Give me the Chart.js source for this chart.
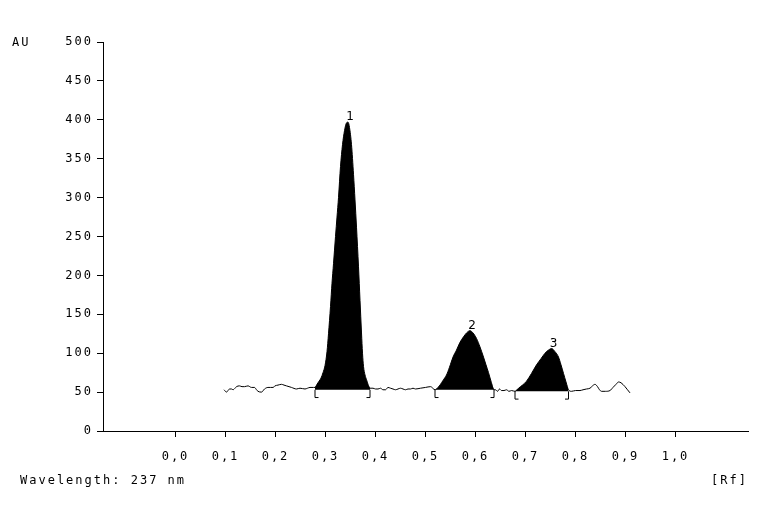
<!DOCTYPE html>
<html>
<head>
<meta charset="utf-8">
<script src="https://cdn.jsdelivr.net/npm/chart.js@4/dist/chart.umd.min.js"></script>
<style>
html,body{margin:0;padding:0;background:#fff;}
#wrap{width:783px;height:525px;}
</style>
</head>
<body>
<div id="wrap"><canvas id="c" width="783" height="525"></canvas></div>
<script>
// ---- Data ----
const rf = [
  0.097,0.102,0.105,0.108,0.112,0.115,0.119,0.122,0.128,0.133,0.138,0.145,0.152,0.158,0.162,0.165,0.172,0.178,0.185,0.190,
  0.195,0.199,0.205,0.212,0.217,0.222,0.232,0.242,0.249,0.259,0.264,0.269,0.276,
  0.279,0.283,0.287,0.291,0.295,0.299,0.303,0.306,0.310,0.313,0.316,0.320,0.323,0.326,0.330,0.334,0.338,0.342,0.345,0.348,
  0.352,0.356,0.359,0.362,0.366,0.369,0.372,0.374,0.376,0.379,0.382,0.385,0.389,
  0.395,0.400,0.405,0.410,0.415,0.420,0.425,0.430,0.435,0.440,0.445,0.450,0.455,0.460,0.465,0.470,0.475,0.480,0.490,0.500,0.510,
  0.519,0.525,0.530,0.535,0.542,0.548,0.555,0.562,0.569,0.576,0.582,0.589,0.595,0.602,0.609,0.616,0.621,0.626,0.631,0.637,
  0.640,0.644,0.648,0.652,0.657,0.662,0.667,0.672,
  0.679,0.686,0.694,0.702,0.712,0.722,0.731,0.739,0.746,0.752,0.759,0.766,0.771,0.776,0.781,0.786,
  0.792,0.800,0.809,0.815,0.822,0.829,0.834,0.839,0.844,0.848,0.852,0.860,0.869,0.875,0.881,0.886,0.891,0.899,0.904,0.909
];
const au = [
  53,50,52,54,54,53,55,57,58,57,57,58,56,56,53,51,50,54,56,56,
  56,58,59,60,59,58,56,54,55,54,55,56,56,
  56,60,64,68,75,84,102,125,160,190,215,250,275,300,340,368,386,396,397,390,
  368,330,297,262,211,168,126,100,83,72,66,60,55,
  55,54,54,55,53,53,56,55,54,53,54,55,54,53,54,54,55,54,55,56,57,
  53,56,60,65,72,82,95,104,114,121,126,129,126,119,108,95,85,75,64,53,
  53,51,54,52,52,53,51,52,
  51,55,59,64,74,85,93,100,104,106,102,95,85,74,63,53,
  51,52,52,53,54,55,58,60,57,53,51,51,52,56,60,63,62,57,53,49
];
const peakNames = ['1','2','3'];
const peakStart = [0.279, 0.519, 0.679];
const peakEnd   = [0.389, 0.637, 0.786];
const peakBase  = [53, 53, 51];
const xTicks = [0.0,0.1,0.2,0.3,0.4,0.5,0.6,0.7,0.8,0.9,1.0];
const yTitle = 'AU';
const xUnit = '[Rf]';
const footNote = 'Wavelength: 237 nm';

// ---- Build datasets ----
const INK = '#000';
const trace = rf.map((x,i)=>({x:x,y:au[i]}));
const datasets = [{
  data: trace, borderColor: INK, borderWidth: 1, pointRadius: 0,
  fill: false, cubicInterpolationMode: 'monotone', order: 0
}];
peakNames.forEach((n,k)=>{
  const pts = trace.filter(p=>p.x>=peakStart[k]-1e-9 && p.x<=peakEnd[k]+1e-9);
  datasets.push({
    data: pts, borderWidth: 0, borderColor: 'rgba(0,0,0,0)', backgroundColor: '#000',
    pointRadius: 0, fill: {value: peakBase[k]}, cubicInterpolationMode: 'monotone', order: 2
  });
  const foot = 0.007, depth = 10;
  datasets.push({
    data: [{x:peakStart[k]+foot,y:peakBase[k]-depth},{x:peakStart[k],y:peakBase[k]-depth},{x:peakStart[k],y:peakBase[k]}],
    borderColor: INK, borderWidth: 1, pointRadius: 0, fill:false, tension:0, order: 1
  });
  datasets.push({
    data: [{x:peakEnd[k]-foot,y:peakBase[k]-depth},{x:peakEnd[k],y:peakBase[k]-depth},{x:peakEnd[k],y:peakBase[k]}],
    borderColor: INK, borderWidth: 1, pointRadius: 0, fill:false, tension:0, order: 1
  });
});

const MONO = '"DejaVu Sans Mono", monospace';

const spacingPlugin = {
  id: 'spacing',
  beforeUpdate(chart){ chart.ctx.letterSpacing = '2px'; },
  beforeDraw(chart){ chart.ctx.letterSpacing = '2px'; }
};

const textPlugin = {
  id: 'texts',
  afterDraw(chart){
    const ctx = chart.ctx;
    const xs = chart.scales.x, ys = chart.scales.y;
    ctx.save();
    ctx.fillStyle = INK;
    ctx.letterSpacing = '2px';
    ctx.font = '12px ' + MONO;
    ctx.textBaseline = 'middle';
    ctx.textAlign = 'left';
    ctx.fillText(yTitle, 12, 43);
    ctx.fillText(footNote, 20, 481);
    ctx.textAlign = 'right';
    ctx.fillText(xUnit, 748, 481);
    // peak numbers above apexes
    ctx.letterSpacing = '0px';
    ctx.font = '12px "DejaVu Sans", sans-serif';
    ctx.textAlign = 'center';
    ctx.textBaseline = 'bottom';
    peakNames.forEach((n,k)=>{
      const pts = trace.filter(p=>p.x>=peakStart[k] && p.x<=peakEnd[k]);
      let top = pts[0];
      pts.forEach(p=>{ if(p.y>top.y) top=p; });
      ctx.fillText(n, xs.getPixelForValue(top.x)+2, ys.getPixelForValue(top.y)+1);
    });
    ctx.restore();
  }
};

new Chart(document.getElementById('c'), {
  type: 'line',
  data: { datasets: datasets },
  plugins: [spacingPlugin, textPlugin],
  options: {
    responsive: false,
    animation: false,
    devicePixelRatio: 1,
    layout: { padding: { left: 0, top: 42, right: 35, bottom: 0 } },
    plugins: { legend: { display: false }, tooltip: { enabled: false } },
    elements: { line: { borderJoinStyle: 'round' } },
    scales: {
      x: {
        type: 'linear', min: -0.145, max: 1.145,
        afterBuildTicks(scale){ scale.ticks = xTicks.map(v=>({value:v})); },
        afterFit(scale){ scale.height = 94; },
        grid: { display: true, drawOnChartArea: false, drawTicks: true, tickLength: 6, color: INK, lineWidth: 1 },
        border: { display: true, color: INK, width: 1 },
        ticks: {
          color: INK, font: { family: MONO, size: 12 }, padding: 13,
          maxRotation: 0, autoSkip: false,
          callback: v => v.toFixed(1).replace('.', ',')
        }
      },
      y: {
        type: 'linear', min: 0, max: 500,
        afterFit(scale){ scale.width = 103; },
        grid: { display: true, drawOnChartArea: false, drawTicks: true, tickLength: 6, color: INK, lineWidth: 1 },
        border: { display: true, color: INK, width: 1 },
        ticks: {
          color: INK, font: { family: MONO, size: 12 }, padding: 4, stepSize: 50,
          callback: v => String(Math.round(v))
        }
      }
    }
  }
});
</script>
</body>
</html>
